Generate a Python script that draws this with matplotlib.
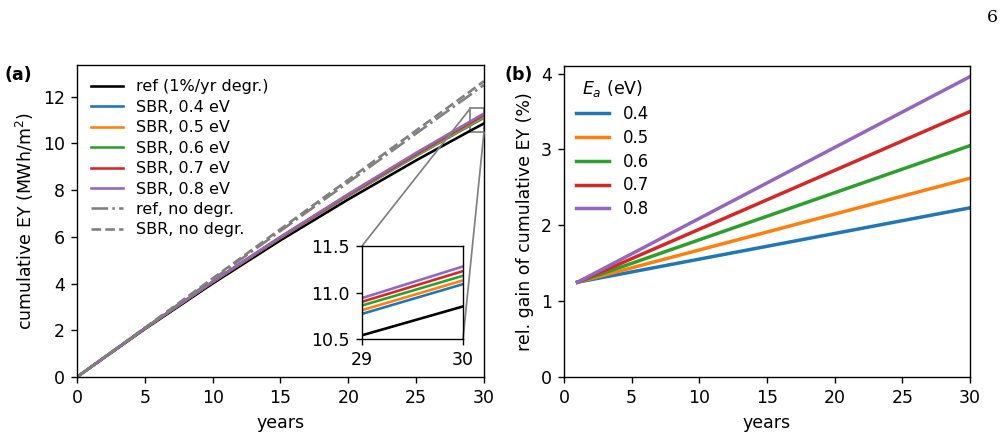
import matplotlib
matplotlib.use("Agg")
import matplotlib.pyplot as plt
from mpl_toolkits.axes_grid1.inset_locator import mark_inset

plt.rcParams["font.size"] = 10
plt.rcParams["mathtext.fontset"] = "dejavusans"

# panel (a): cumulative energy yield (MWh/m2)
years = [0, 5, 10, 15, 20, 25, 29, 30]
ref_degr = [0, 2.05, 4.00, 5.85, 7.60, 9.27, 10.54, 10.85]
sbr_04 = [0, 2.078, 4.062, 5.951, 7.744, 9.461, 10.77, 11.09]
sbr_05 = [0, 2.080, 4.067, 5.962, 7.763, 9.491, 10.81, 11.13]
sbr_06 = [0, 2.081, 4.072, 5.974, 7.785, 9.524, 10.86, 11.18]
sbr_07 = [0, 2.082, 4.078, 5.987, 7.807, 9.558, 10.90, 11.23]
sbr_08 = [0, 2.083, 4.084, 6.000, 7.830, 9.594, 10.94, 11.28]
ref_nodegr = [0, 2.08, 4.17, 6.25, 8.33, 10.42, 12.08, 12.50]
sbr_nodegr = [0, 2.11, 4.22, 6.33, 8.44, 10.55, 12.23, 12.66]

sbr_series = [sbr_04, sbr_05, sbr_06, sbr_07, sbr_08]
ea_labels = ["0.4", "0.5", "0.6", "0.7", "0.8"]
colors = ["C0", "C1", "C2", "C3", "C4"]

# panel (b): relative gain (%)
years_b = [1, 5, 10, 15, 20, 25, 30]
gain_04 = [1.25, 1.385, 1.554, 1.723, 1.892, 2.061, 2.23]
gain_05 = [1.25, 1.439, 1.675, 1.911, 2.148, 2.384, 2.62]
gain_06 = [1.25, 1.498, 1.809, 2.119, 2.429, 2.740, 3.05]
gain_07 = [1.25, 1.560, 1.948, 2.336, 2.724, 3.112, 3.50]
gain_08 = [1.25, 1.624, 2.091, 2.558, 3.026, 3.493, 3.96]
gains = [gain_04, gain_05, gain_06, gain_07, gain_08]

fig = plt.figure(figsize=(8.056, 3.52), dpi=125)
ax1 = fig.add_axes([77/1007, 1 - 377/440, 407/1007, 312/440])
ax2 = fig.add_axes([564/1007, 1 - 377/440, 406/1007, 311/440])

ax1.plot(years, ref_degr, color="k", label="ref (1%/yr degr.)")
for s, e, c in zip(sbr_series, ea_labels, colors):
    ax1.plot(years, s, color=c, label="SBR, " + e + " eV")
ax1.plot(years, ref_nodegr, color="gray", linestyle="-.", label="ref, no degr.")
ax1.plot(years, sbr_nodegr, color="gray", linestyle="--", label="SBR, no degr.")
ax1.set_xlim(0, 30)
ax1.set_ylim(0, 13.35)
ax1.set_xticks([0, 5, 10, 15, 20, 25, 30])
ax1.set_yticks([0, 2, 4, 6, 8, 10, 12])
ax1.set_xlabel("years")
ax1.set_ylabel("cumulative EY (MWh/m$^2$)")
ax1.legend(loc="upper left", frameon=False, fontsize=9.2, labelspacing=0.34)

# zoomed inset of the last year
axins = fig.add_axes([362/1007, 1 - 339/440, 101/1007, 93/440])
axins.plot(years, ref_degr, color="k")
for s, c in zip(sbr_series, colors):
    axins.plot(years, s, color=c)
axins.set_xlim(29, 30)
axins.set_ylim(10.5, 11.5)
axins.set_xticks([29, 30])
axins.set_yticks([10.5, 11.0, 11.5])
mark_inset(ax1, axins, loc1=2, loc2=4, fc="none", ec="0.5")

for g, e, c in zip(gains, ea_labels, colors):
    ax2.plot(years_b, g, color=c, lw=2, label=e)
ax2.set_xlim(0, 30)
ax2.set_ylim(0, 4.1)
ax2.set_xticks([0, 5, 10, 15, 20, 25, 30])
ax2.set_yticks([0, 1, 2, 3, 4])
ax2.set_xlabel("years")
ax2.set_ylabel("rel. gain of cumulative EY (%)")
ax2.legend(loc="upper left", frameon=False, title="$E_a$ (eV)", fontsize=9.5,
           title_fontsize=10, labelspacing=0.35, borderaxespad=0.35)

fig.text(5/1007, 1 - 75/440, "(a)", fontweight="bold", va="center")
fig.text(505/1007, 1 - 75/440, "(b)", fontweight="bold", va="center")
fig.text(992/1007, 1 - 17/440, "6", family="DejaVu Serif", fontsize=10,
         ha="center", va="center")

fig.savefig("out.png", dpi=125)
